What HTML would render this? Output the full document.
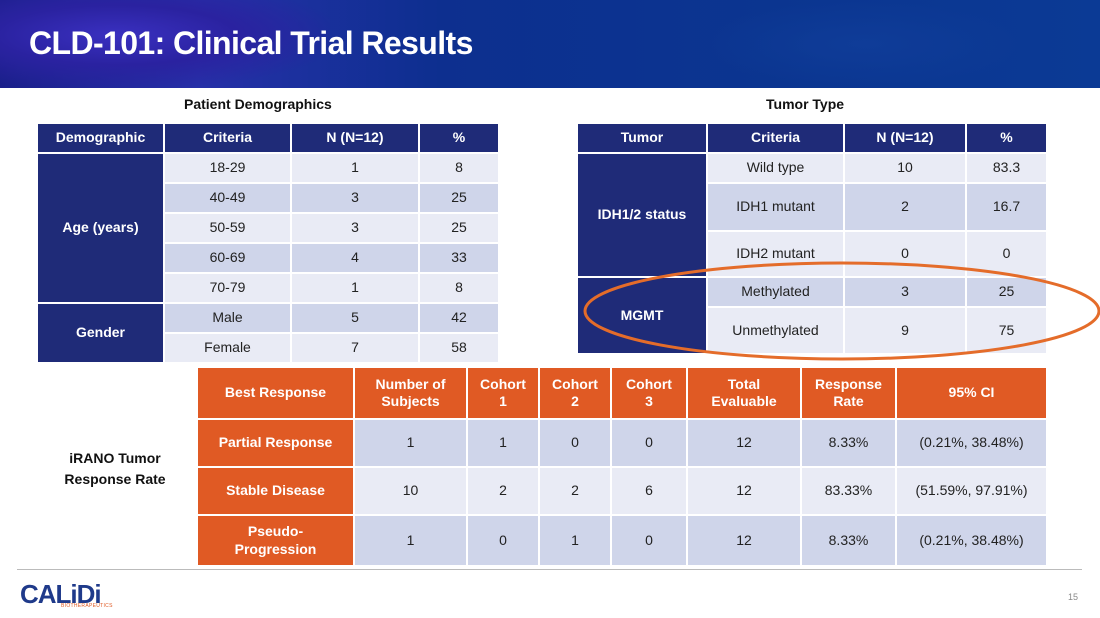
<!DOCTYPE html>
<html><head><meta charset="utf-8"><style>
*{margin:0;padding:0;box-sizing:border-box}
body{width:1100px;height:618px;position:relative;background:#fff;font-family:"Liberation Sans",sans-serif;overflow:hidden}
.banner{position:absolute;left:0;top:0;width:1100px;height:88px;background:linear-gradient(90deg,#1a1f8a 0%,#2630a8 18%,#0d2f8f 40%,#0b3590 70%,#0b3a95 100%)}
.banner .b1{position:absolute;left:0;top:0;width:330px;height:88px;background:radial-gradient(ellipse at 35% 40%,#3a30c0 0%,#2a22a0 40%,rgba(20,20,120,0) 75%)}
.banner .b2{position:absolute;left:700px;top:0;width:330px;height:88px;background:radial-gradient(ellipse at 50% 50%,#0f3c98 0%,rgba(11,53,144,0) 70%)}
h1{position:absolute;left:29px;top:25px;color:#fff;font-size:32px;font-weight:bold;letter-spacing:-0.6px}
.cap{position:absolute;font-size:14px;font-weight:bold;color:#111}
table{position:absolute;border-collapse:collapse;table-layout:fixed;font-size:14px;color:#222}
td,th{border:2px solid #fff;text-align:center;vertical-align:middle;padding:0;line-height:1.25}
th{font-weight:bold;color:#fff}
.nv th,.nv td.g{background:#1f2b78;color:#fff;font-weight:bold}
.l{background:#e9ebf5}.d{background:#cfd5ea}
.sep td{border-top:2px solid #1f2b78}
.or th,.or td.g{background:#e05a24;color:#fff;font-weight:bold}
</style></head><body>
<div class="banner"><div class="b1"></div><div class="b2"></div></div>
<h1>CLD-101: Clinical Trial Results</h1>

<div class="cap" style="left:184px;top:96px">Patient Demographics</div>
<div class="cap" style="left:766px;top:96px">Tumor Type</div>

<table class="nv" style="left:36px;top:122px;width:462px">
<colgroup><col style="width:127px"><col style="width:127px"><col style="width:128px"><col style="width:80px"></colgroup>
<tr style="height:30px"><th>Demographic</th><th>Criteria</th><th>N (N=12)</th><th>%</th></tr>
<tr style="height:30px"><td class="g" rowspan="5">Age (years)</td><td class="l">18-29</td><td class="l">1</td><td class="l">8</td></tr>
<tr style="height:30px"><td class="d">40-49</td><td class="d">3</td><td class="d">25</td></tr>
<tr style="height:30px"><td class="l">50-59</td><td class="l">3</td><td class="l">25</td></tr>
<tr style="height:30px"><td class="d">60-69</td><td class="d">4</td><td class="d">33</td></tr>
<tr style="height:30px"><td class="l">70-79</td><td class="l">1</td><td class="l">8</td></tr>
<tr style="height:30px" class="sep"><td class="g" rowspan="2" style="border-top:2px solid #fff">Gender</td><td class="d">Male</td><td class="d">5</td><td class="d">42</td></tr>
<tr style="height:30px"><td class="l">Female</td><td class="l">7</td><td class="l">58</td></tr>
</table>

<table class="nv" style="left:576px;top:122px;width:470px">
<colgroup><col style="width:130px"><col style="width:137px"><col style="width:122px"><col style="width:81px"></colgroup>
<tr style="height:30px"><th>Tumor</th><th>Criteria</th><th>N (N=12)</th><th>%</th></tr>
<tr style="height:30px"><td class="g" rowspan="3">IDH1/2 status</td><td class="l">Wild type</td><td class="l">10</td><td class="l">83.3</td></tr>
<tr style="height:48px"><td class="d">IDH1 mutant</td><td class="d">2</td><td class="d">16.7</td></tr>
<tr style="height:46px"><td class="l">IDH2 mutant</td><td class="l">0</td><td class="l">0</td></tr>
<tr style="height:30px" class="sep"><td class="g" rowspan="2" style="border-top:2px solid #fff">MGMT</td><td class="d">Methylated</td><td class="d">3</td><td class="d">25</td></tr>
<tr style="height:47px"><td class="l">Unmethylated</td><td class="l">9</td><td class="l">75</td></tr>
</table>

<svg style="position:absolute;left:0;top:0" width="1100" height="618"><ellipse cx="842" cy="311" rx="257" ry="48" fill="none" stroke="#e46c2a" stroke-width="3"/></svg>

<div class="cap" style="left:50px;top:448px;width:130px;text-align:center;line-height:21px">iRANO Tumor<br>Response Rate</div>

<table class="or" style="left:196px;top:366px;width:850px">
<colgroup><col style="width:157px"><col style="width:113px"><col style="width:72px"><col style="width:72px"><col style="width:76px"><col style="width:114px"><col style="width:95px"><col style="width:151px"></colgroup>
<tr style="height:52px"><th>Best Response</th><th>Number of<br>Subjects</th><th>Cohort<br>1</th><th>Cohort<br>2</th><th>Cohort<br>3</th><th>Total<br>Evaluable</th><th>Response<br>Rate</th><th>95% CI</th></tr>
<tr style="height:48px" class="d"><td class="g">Partial Response</td><td>1</td><td>1</td><td>0</td><td>0</td><td>12</td><td>8.33%</td><td>(0.21%, 38.48%)</td></tr>
<tr style="height:48px" class="l"><td class="g">Stable Disease</td><td>10</td><td>2</td><td>2</td><td>6</td><td>12</td><td>83.33%</td><td>(51.59%, 97.91%)</td></tr>
<tr style="height:51px" class="d"><td class="g">Pseudo-<br>Progression</td><td>1</td><td>0</td><td>1</td><td>0</td><td>12</td><td>8.33%</td><td>(0.21%, 38.48%)</td></tr>
</table>

<div style="position:absolute;left:17px;top:569px;width:1065px;height:1px;background:#bbb"></div>
<div style="position:absolute;left:20px;top:579px;font-size:26px;font-weight:bold;color:#1f3a8a;letter-spacing:-1px">CALiDi</div>
<div style="position:absolute;left:61px;top:603px;font-size:5px;color:#e05a24;letter-spacing:0.3px">BIOTHERAPEUTICS</div>
<div style="position:absolute;left:1068px;top:592px;font-size:9px;color:#888">15</div>
</body></html>
